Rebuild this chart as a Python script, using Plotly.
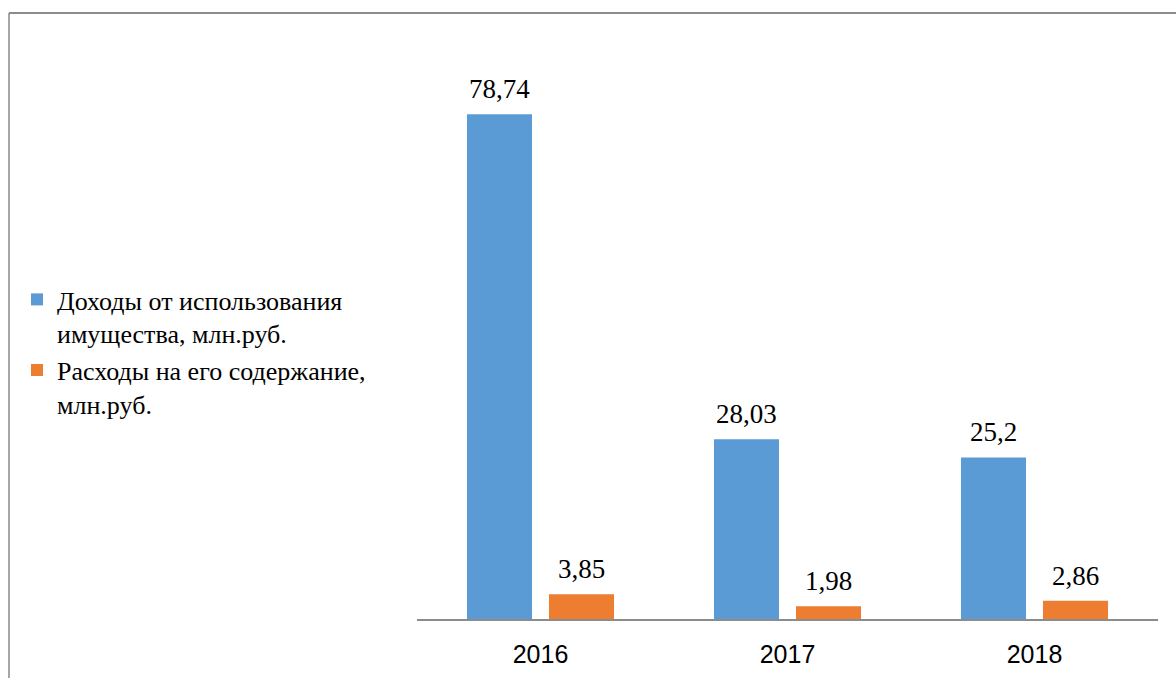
import plotly.graph_objects as go

years = ["2016", "2017", "2018"]
income = [78.74, 28.03, 25.2]
costs = [3.85, 1.98, 2.86]
names = ["Доходы от использования<br>имущества, млн.руб.",
         "Расходы на его содержание,<br>млн.руб."]
colors = ["#5b9bd5", "#ed7d31"]

SERIF = "Liberation Serif, Times New Roman, DejaVu Serif, serif"

def fmt(v):
    return str(v).replace(".", ",")

fig = go.Figure()
series = [(income, names[0], colors[0], -41), (costs, names[1], colors[1], 41)]
for i, (vals, name, col, dx) in enumerate(series):
    fig.add_trace(go.Bar(
        x=years, y=vals, name=name, marker_color=col, marker_line_width=0,
        legendgroup="g%d" % i,
    ))
for vals, name, col, dx in series:
    for idx, v in enumerate(vals):
        fig.add_annotation(x=idx, y=v, xref="x", yref="y", text=fmt(v), showarrow=False,
                           xshift=dx, yanchor="bottom", yshift=8,
                           font=dict(family=SERIF, size=27, color="black"))

W, H = 1176, 678
L, R, T, B = 417, 18, 42, 59
pw, ph = W - L - R, H - T - B

def px(x):
    return (x - L) / pw

def py(y):
    return (H - B - y) / ph

fig.update_layout(
    width=W, height=H,
    margin=dict(l=L, r=R, t=T, b=B),
    paper_bgcolor="white", plot_bgcolor="white",
    barmode="group", bargap=0.336, bargroupgap=0.207,
    showlegend=True,
    legend=dict(x=px(17), xanchor="left", y=py(352), yanchor="middle",
                font=dict(family=SERIF, size=26, color="black"),
                valign="top", tracegroupgap=0, bgcolor="rgba(0,0,0,0)"),
    xaxis=dict(type="category", range=[-0.5, len(years) - 0.5], automargin=False,
               showline=True, linecolor="#8c8c8c", linewidth=1.5,
               ticks="outside", ticklen=12, tickcolor="rgba(0,0,0,0)",
               tickfont=dict(family="Liberation Sans", size=25, color="black"),
               showgrid=False, zeroline=False),
    yaxis=dict(range=[0, 90], visible=False, showgrid=False, zeroline=False, automargin=False),
    shapes=[
        dict(type="line", xref="paper", yref="paper", x0=px(9), x1=px(9), y0=py(13), y1=py(680),
             line=dict(color="#a6a6a6", width=2)),
        dict(type="line", xref="paper", yref="paper", x0=px(9), x1=px(1180), y0=py(13), y1=py(13),
             line=dict(color="#8c8c8c", width=2)),
    ],
)

fig.write_html("out.html")
